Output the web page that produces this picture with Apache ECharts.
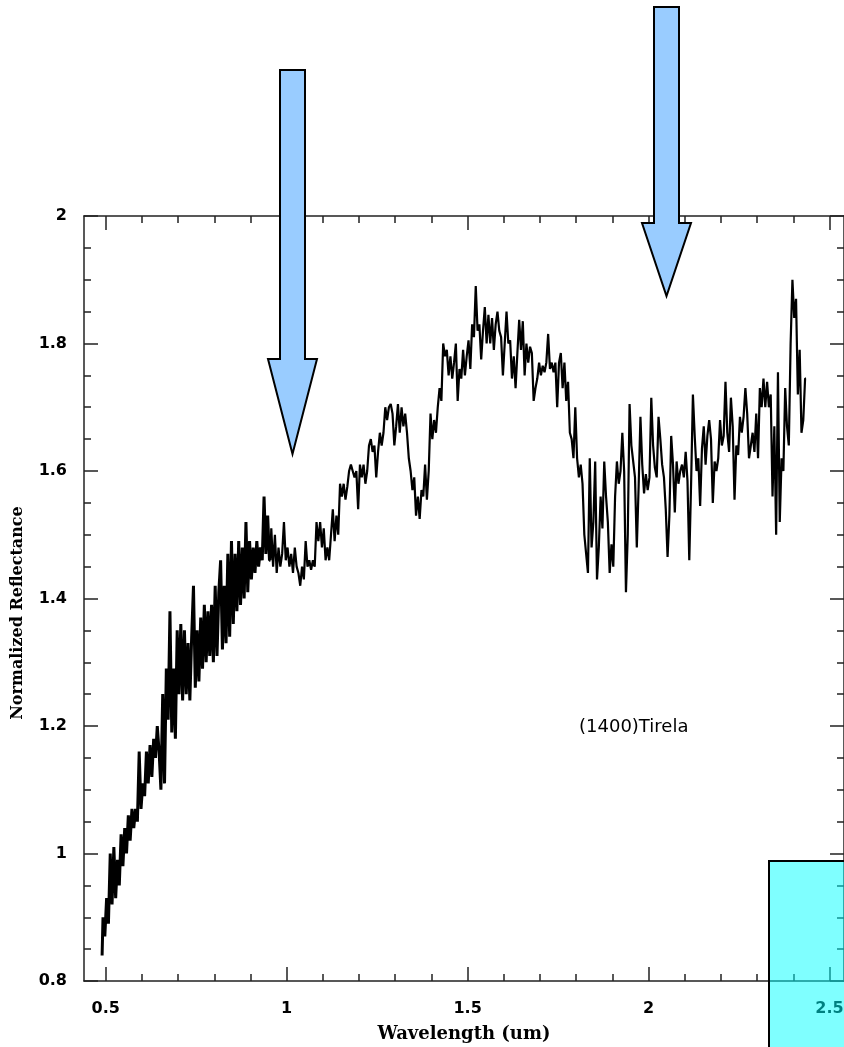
<!DOCTYPE html>
<html>
<head>
<meta charset="utf-8">
<script src="https://cdn.jsdelivr.net/npm/echarts@6/dist/echarts.min.js"></script>
<style>
html,body{margin:0;padding:0;background:#fff;}
#chart{width:844px;height:1047px;}
</style>
</head>
<body>
<div id="chart"></div>
<script>
// Spectrum of (1400) Tirela, sampled on a regular wavelength grid (um)
const wavelengthStart = 0.49;
const wavelengthStep = 0.005;
const reflectance = [
  // 0.490 - 0.585
  0.84,0.90,0.87,0.93,0.89,1.00,0.92,1.01,0.93,0.99,0.95,1.03,0.98,1.04,1.00,1.06,1.02,1.07,1.04,1.07,
  // 0.590 - 0.685
  1.05,1.16,1.07,1.11,1.09,1.16,1.11,1.17,1.12,1.18,1.15,1.20,1.16,1.10,1.25,1.11,1.29,1.21,1.38,1.19,
  // 0.690 - 0.785
  1.29,1.18,1.35,1.25,1.36,1.24,1.35,1.25,1.33,1.24,1.34,1.42,1.26,1.35,1.27,1.37,1.29,1.39,1.30,1.38,
  // 0.790 - 0.885
  1.31,1.39,1.30,1.42,1.31,1.41,1.46,1.32,1.42,1.33,1.47,1.34,1.49,1.36,1.47,1.38,1.49,1.39,1.48,1.40,
  // 0.890 - 0.985
  1.52,1.41,1.49,1.43,1.48,1.44,1.49,1.45,1.48,1.46,1.56,1.47,1.53,1.46,1.51,1.45,1.50,1.44,1.48,1.45,
  // 0.990 - 1.085
  1.47,1.52,1.46,1.48,1.45,1.47,1.44,1.48,1.45,1.44,1.42,1.45,1.43,1.49,1.45,1.46,1.445,1.46,1.45,1.52,
  // 1.090 - 1.185
  1.49,1.52,1.48,1.51,1.46,1.48,1.46,1.50,1.54,1.49,1.53,1.50,1.58,1.56,1.58,1.555,1.575,1.60,1.61,1.60,
  // 1.190 - 1.285
  1.59,1.60,1.54,1.61,1.59,1.61,1.58,1.60,1.64,1.65,1.63,1.64,1.59,1.63,1.66,1.64,1.66,1.70,1.68,1.70,
  // 1.290 - 1.385
  1.705,1.69,1.64,1.67,1.705,1.66,1.70,1.67,1.69,1.66,1.62,1.60,1.57,1.59,1.53,1.56,1.525,1.57,1.56,1.61,
  // 1.390 - 1.485
  1.555,1.60,1.69,1.65,1.68,1.66,1.70,1.73,1.71,1.80,1.78,1.79,1.75,1.78,1.745,1.77,1.80,1.71,1.76,1.745,
  // 1.490 - 1.585
  1.79,1.75,1.78,1.805,1.76,1.83,1.81,1.89,1.82,1.83,1.775,1.82,1.857,1.80,1.845,1.80,1.84,1.79,1.83,1.85,
  // 1.590 - 1.685
  1.82,1.81,1.75,1.80,1.85,1.80,1.805,1.745,1.78,1.73,1.785,1.837,1.79,1.835,1.75,1.80,1.77,1.795,1.785,1.71,
  // 1.690 - 1.785
  1.73,1.745,1.77,1.75,1.765,1.755,1.77,1.815,1.76,1.77,1.755,1.77,1.70,1.77,1.785,1.73,1.77,1.71,1.74,1.66,
  // 1.790 - 1.885
  1.65,1.62,1.70,1.62,1.59,1.61,1.58,1.50,1.47,1.44,1.62,1.48,1.52,1.615,1.43,1.48,1.56,1.51,1.615,1.56,
  // 1.890 - 1.985
  1.52,1.44,1.485,1.45,1.56,1.615,1.58,1.60,1.66,1.60,1.41,1.50,1.705,1.64,1.615,1.59,1.48,1.575,1.685,1.61,
  // 1.990 - 2.085
  1.565,1.595,1.57,1.59,1.715,1.64,1.605,1.59,1.685,1.65,1.61,1.59,1.54,1.465,1.53,1.655,1.61,1.535,1.615,1.58,
  // 2.090 - 2.185
  1.60,1.61,1.59,1.63,1.585,1.46,1.58,1.72,1.655,1.60,1.62,1.545,1.635,1.67,1.61,1.655,1.68,1.65,1.55,1.615,
  // 2.190 - 2.285
  1.60,1.62,1.68,1.64,1.655,1.74,1.66,1.63,1.715,1.67,1.555,1.64,1.625,1.685,1.66,1.685,1.73,1.69,1.62,1.64,
  // 2.290 - 2.385
  1.66,1.63,1.69,1.62,1.73,1.70,1.745,1.70,1.74,1.70,1.72,1.56,1.67,1.50,1.755,1.52,1.62,1.60,1.73,1.67,
  // 2.390 - 2.435
  1.64,1.80,1.90,1.84,1.87,1.72,1.79,1.66,1.68,1.745
];
// the dense visible-range part of the spectrum ends here (um)
const visibleEnd = 0.955;

const xMajorTicks = [0.5, 1, 1.5, 2, 2.5];
const xMinorTicks = [0.5,0.6,0.7,0.8,0.9,1.0,1.1,1.2,1.3,1.4,1.5,1.6,1.7,1.8,1.9,2.0,2.1,2.2,2.3,2.4,2.5];
const xTickLabels = ['0.5', '1', '1.5', '2', '2.5'];
const xRange = [0.44, 2.54];
const yRange = [0.8, 2.0];
const yInterval = 0.2;

const objectLabel = '(1400)Tirela';
const xTitle = 'Wavelength (um)';
const yTitle = 'Normalized Reflectance';

const spectrum = reflectance.map((v, i) => [+(wavelengthStart + i * wavelengthStep).toFixed(3), v]);
const visiblePart = spectrum.filter(p => p[0] <= visibleEnd + 1e-9);
const nirPart = spectrum.filter(p => p[0] >= visibleEnd - 1e-9);

const axisColor = '#222';
const labelFont = { fontFamily: 'DejaVu Sans', fontWeight: 'bold', fontSize: 16, color: '#000' };

function xAxisCfg(position, ticks, len, withLabels, showLine) {
  return {
    type: 'value', position: position, min: xRange[0], max: xRange[1],
    axisLine: { show: showLine, onZero: false, lineStyle: { color: axisColor, width: 1.5 } },
    axisTick: { show: true, inside: true, length: len, customValues: ticks, lineStyle: { color: axisColor, width: 1.5 } },
    axisLabel: withLabels ? Object.assign({ show: true, margin: 20, customValues: xMajorTicks,
      formatter: v => { const k = xMajorTicks.findIndex(t => Math.abs(t - v) < 1e-6); return k >= 0 ? xTickLabels[k] : ''; } }, labelFont) : { show: false },
    splitLine: { show: false }
  };
}

const chart = echarts.init(document.getElementById('chart'), null, { renderer: 'canvas' });
chart.setOption({
  animation: false,
  backgroundColor: '#fff',
  grid: { left: 84, top: 216, width: 760, height: 765, containLabel: false, outerBoundsMode: 'none' },
  xAxis: [
    Object.assign(xAxisCfg('bottom', xMajorTicks, 14, true, true), {
      name: xTitle, nameLocation: 'middle', nameGap: 44,
      nameTextStyle: { fontFamily: 'DejaVu Serif', fontWeight: 'bold', fontSize: 18, color: '#000' }
    }),
    xAxisCfg('bottom', xMinorTicks, 7, false, false),
    xAxisCfg('top', xMajorTicks, 14, false, true),
    xAxisCfg('top', xMinorTicks, 7, false, false)
  ],
  yAxis: [
    {
      type: 'value', position: 'left', min: yRange[0], max: yRange[1], interval: yInterval,
      axisLine: { show: true, lineStyle: { color: axisColor, width: 1.5 } },
      axisTick: { show: true, inside: true, length: 14, lineStyle: { color: axisColor, width: 1.5 } },
      minorTick: { show: true, splitNumber: 4, length: 7, lineStyle: { color: axisColor, width: 1.5 } },
      axisLabel: Object.assign({ margin: 17 }, labelFont),
      splitLine: { show: false }
    },
    {
      type: 'value', position: 'right', min: yRange[0], max: yRange[1], interval: yInterval,
      axisLine: { show: true, lineStyle: { color: axisColor, width: 1.5 } },
      axisTick: { show: true, inside: true, length: 14, lineStyle: { color: axisColor, width: 1.5 } },
      minorTick: { show: true, splitNumber: 4, length: 7, lineStyle: { color: axisColor, width: 1.5 } },
      axisLabel: { show: false },
      splitLine: { show: false }
    }
  ],
  series: [
    {
      type: 'line', xAxisIndex: 0, yAxisIndex: 0,
      data: visiblePart, step: 'middle', showSymbol: false, symbol: 'none',
      lineStyle: { color: '#000', width: 3 }, clip: true, z: 3
    },
    {
      type: 'line', xAxisIndex: 0, yAxisIndex: 0,
      data: nirPart, step: 'middle', showSymbol: false, symbol: 'none',
      lineStyle: { color: '#000', width: 2.2 }, clip: true, z: 3
    }
  ],
  graphic: [
    { type: 'text', x: 18, y: 613, rotation: Math.PI / 2, z: 50,
      style: { text: yTitle, fontFamily: 'DejaVu Serif', fontWeight: 'bold', fontSize: 16, fill: '#000',
               align: 'center', verticalAlign: 'middle' } },
    { type: 'text', x: 579, y: 727, z: 50,
      style: { text: objectLabel, fontFamily: 'DejaVu Sans', fontSize: 18, fill: '#000', verticalAlign: 'middle' } },
    { type: 'polygon', z: 100,
      shape: { points: [[280,70],[305,70],[305,359],[317,359],[292.5,454],[268,359],[280,359]] },
      style: { fill: '#99ccff', stroke: '#000', lineWidth: 2 } },
    { type: 'polygon', z: 100,
      shape: { points: [[654,7],[679,7],[679,223],[691,223],[666.5,296],[642,223],[654,223]] },
      style: { fill: '#99ccff', stroke: '#000', lineWidth: 2 } },
    { type: 'rect', z: 100,
      shape: { x: 769, y: 861, width: 90, height: 200 },
      style: { fill: 'rgba(0,255,255,0.5)', stroke: '#000', lineWidth: 2 } }
  ]
});
</script>
</body>
</html>
